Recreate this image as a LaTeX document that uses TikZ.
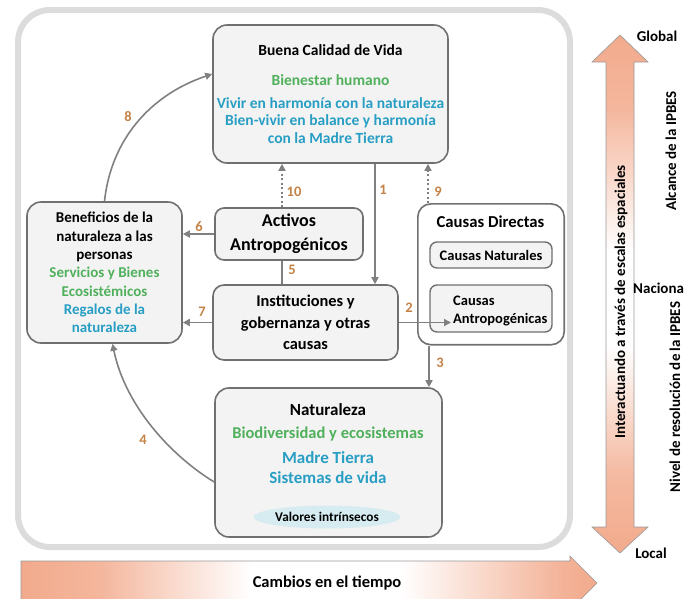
\documentclass[tikz,border=0pt]{standalone}
\usepackage{fontspec}
\setmainfont{Carlito}
\usetikzlibrary{arrows.meta,positioning,fit,shapes.geometric}
\tikzset{>={Triangle[width=7pt,length=7pt]}}

\definecolor{boxfill}{RGB}{243,243,243}
\definecolor{boxline}{RGB}{112,112,112}
\definecolor{framegray}{RGB}{220,220,220}
\definecolor{arrowgray}{RGB}{128,128,128}
\definecolor{vidagreen}{RGB}{80,176,92}
\definecolor{vidacyan}{RGB}{40,158,196}
\definecolor{numorange}{RGB}{196,130,70}
\definecolor{salmon}{RGB}{242,170,140}
\definecolor{valfill}{RGB}{214,236,240}

\newcommand{\fsz}[2]{\fontsize{#1}{#2}\selectfont\bfseries}

\pgfdeclarehorizontalshading{timefade}{100bp}{color(0bp)=(salmon); color(25bp)=(salmon); color(32bp)=(salmon!85); color(45bp)=(white); color(58bp)=(white); color(72bp)=(salmon!90); color(75bp)=(salmon); color(100bp)=(salmon)}
\pgfdeclareverticalshading{scalefade}{100bp}{color(0bp)=(salmon); color(25bp)=(salmon); color(33bp)=(salmon!80); color(45bp)=(white); color(54bp)=(white); color(68bp)=(salmon!85); color(75bp)=(salmon); color(100bp)=(salmon)}

\begin{document}
\begin{tikzpicture}[x=1pt,y=-1pt]
  \tikzstyle{vbox} = [draw=boxline, fill=boxfill, line width=1.6pt, rounded corners=14pt, align=center, inner sep=0pt]
  \tikzstyle{ibox} = [draw=boxline, fill=boxfill, line width=1.4pt, rounded corners=7pt, inner sep=0pt]
  \tikzstyle{link} = [draw=arrowgray, line width=1.6pt]
  \tikzstyle{dots} = [dash pattern=on 2pt off 2.5pt]
  \tikzstyle{num} = [text=numorange, font=\fsz{14.5}{16}, inner sep=1pt]
  \tikzstyle{side} = [font=\fsz{15}{18}, inner sep=0pt]

  \useasboundingbox (0,0) rectangle (685,598);
  \clip (0,0) rectangle (685,598);

  % outer frame
  \draw[framegray, line width=6pt, rounded corners=32pt] (18,10) rectangle (570,547);

  % time and scale arrows
  \shade[shading=timefade, draw=black!40, line width=0.6pt] (21,561) -- (570,561) -- (570,556) -- (597,583) -- (570,610) -- (570,605) -- (21,605) -- cycle;
  \shade[shading=scalefade, draw=black!40, line width=0.6pt] (620,35) -- (648,62) -- (634,62) -- (634,527) -- (648,527) -- (620,553) -- (592,527) -- (606,527) -- (606,62) -- (592,62) -- cycle;

  \node[font=\fsz{16.5}{18}, inner sep=0pt] (tiempo) at (327,583) {Cambios en el tiempo};
  \node[side, rotate=90] (escalas) at (621,302) {Interactuando a través de escalas espaciales};
  \node[side] (global) at (657,36) {Global};
  \node[side, anchor=west] (nacional) at (633,288) {Naciona};
  \node[side] (local) at (651,553) {Local};
  \node[side, rotate=90] (alcance) at (671,151) {Alcance de la IPBES};
  \node[side, rotate=90] (resol) at (675,397) {Nivel de resolución de la IPBES};

  % boxes
  \node[vbox, minimum width=235pt, minimum height=138pt, font=\fsz{15.5}{17.5}] (vida) at (330.5,94)
    {Buena Calidad de Vida\\[12.5pt]
     \textcolor{vidagreen}{Bienestar humano}\\[5.5pt]
     \textcolor{vidacyan}{Vivir en harmonía con la naturaleza}\\
     \textcolor{vidacyan}{Bien-vivir en balance y harmonía}\\
     \textcolor{vidacyan}{con la Madre Tierra}};
  \node[vbox, minimum width=155pt, minimum height=141pt, font=\fsz{15}{18.3}] (benef) at (104.5,272.5)
    {Beneficios de la\\naturaleza a las\\personas\\
     \textcolor{vidagreen}{Servicios y Bienes}\\
     \textcolor{vidagreen}{Ecosistémicos}\\
     \textcolor{vidacyan}{Regalos de la}\\
     \textcolor{vidacyan}{naturaleza}};
  \node[vbox, rounded corners=9pt, minimum width=148pt, minimum height=52pt, font=\fsz{18}{24}] (activos) at (289,234) {Activos\\Antropogénicos};
  \node[vbox, rounded corners=11pt, minimum width=185pt, minimum height=75pt, font=\fsz{16.4}{21.5}] (instit) at (305.5,322.5) {Instituciones y\\gobernanza y otras\\causas};

  \node[ibox, minimum width=122pt, minimum height=26pt, font=\fsz{14.5}{16}] (cnat) at (491,255) {Causas Naturales};
  \node[ibox, minimum width=122pt, minimum height=47pt] (cantr) at (491,308.5) {};
  \node[font=\fsz{14.5}{18}, align=left, anchor=west, inner sep=0pt] (cantrtxt) at (453,311) {Causas\\Antropogénicas};
  \node[font=\fsz{16.7}{18}, inner sep=0pt] (cdirtitle) at (490.5,222) {Causas Directas};
  \node[vbox, fill=none, rounded corners=13pt, fit=(cdirtitle)(cnat)(cantr), inner xsep=11.5pt, inner ysep=12pt] (cdir) {};

  \node[vbox, minimum width=227pt, minimum height=149pt] (natur) at (328.5,462.5) {};
  \node[font=\fsz{17}{20}, align=center, inner sep=0pt] (naturtxt) at (328,444)
    {Naturaleza\\[3pt]
     \textcolor{vidagreen}{\fontsize{16.5}{20}\selectfont Biodiversidad y ecosistemas}\\[5pt]
     \textcolor{vidacyan}{Madre Tierra}\\
     \textcolor{vidacyan}{Sistemas de vida}};
  \node[ellipse, fill=valfill, minimum width=135pt, minimum height=23pt, inner sep=0pt, font=\fsz{13.3}{15}] (valores) at (327,517) {Valores intrínsecos};

  % connectors
  \draw[link,->] ([xshift=44.5pt]vida.south) -- ([xshift=44.5pt]vida.south |- instit.north);
  \draw[link,->] (instit.east) -- ([xshift=-2pt]instit.east -| cantrtxt.west);
  \draw[link,->] ([xshift=-62pt]cdir.south) -- ([xshift=-62pt]cdir.south |- natur.north);
  \draw[link,->,dots] ([xshift=-63pt]cdir.north) -- ([xshift=-63pt]cdir.north |- vida.south);
  \draw[link,->,dots] ([xshift=-7pt]activos.north) -- ([xshift=-7pt]activos.north |- vida.south);
  \draw[link] ([xshift=-7pt]activos.south) -- ([xshift=-7pt]activos.south |- instit.north);
  \draw[link,->] (activos.west) -- (activos.west -| benef.east);
  \draw[link,->] (instit.west) -- (instit.west -| benef.east);
  \draw[link,->] (benef.north) .. controls (111,140) and (150,95) .. ([yshift=20pt]vida.west);
  \draw[link,->] ([yshift=-19.5pt]natur.west) .. controls (170,455) and (125,405) .. ([xshift=8pt]benef.south);

  % numbers
  \node[num] (n1) at (383,190) {1};
  \node[num] (n2) at (409,308) {2};
  \node[num] (n3) at (440,363) {3};
  \node[num] (n4) at (143,440) {4};
  \node[num] (n5) at (292,270) {5};
  \node[num] (n6) at (199,227) {6};
  \node[num] (n7) at (202,312) {7};
  \node[num] (n8) at (128,117) {8};
  \node[num] (n9) at (438,192) {9};
  \node[num] (n10) at (294,192) {10};
\end{tikzpicture}
\end{document}
